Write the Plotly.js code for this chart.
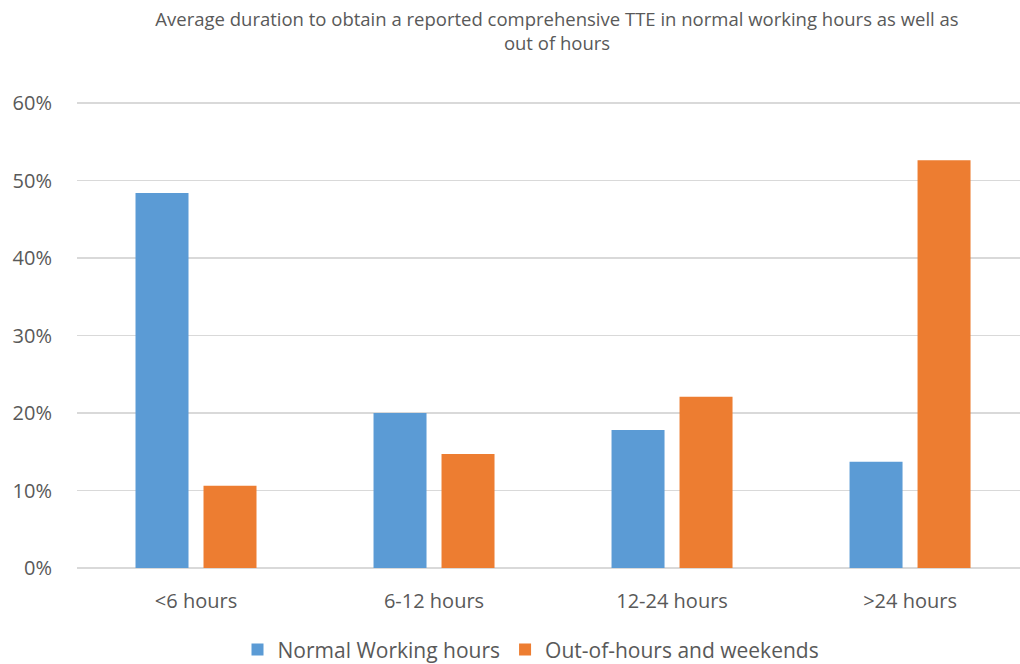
<!DOCTYPE html>
<html><head><meta charset="utf-8">
<script src="https://cdn.plot.ly/plotly-3.0.1.min.js"></script>
<style>html,body{margin:0;padding:0;background:#fff}</style>
</head><body>
<div id="chart" style="width:1020px;height:664px"></div>
<script>
const categories = ["<6 hours", "6-12 hours", "12-24 hours", ">24 hours"];
const normalHours = [0.484, 0.200, 0.178, 0.137];
const outOfHours = [0.106, 0.147, 0.221, 0.526];
const seriesNames = ["Normal Working hours", "Out-of-hours and weekends"];
const yTicks = [0, 0.1, 0.2, 0.3, 0.4, 0.5, 0.6];
const yTickLabels = ["0%", "10%", "20%", "30%", "40%", "50%", "60%"];

const font = "Open Sans, Noto Sans, sans-serif";
const data = [
  {type:"bar", x:categories, y:normalHours, name:seriesNames[0], marker:{color:"#5B9BD5"}, hoverinfo:"skip"},
  {type:"bar", x:categories, y:outOfHours, name:seriesNames[1], marker:{color:"#ED7D31"}, hoverinfo:"skip"}
];
const layout = {
  width:1020, height:664,
  margin:{l:77, r:0, t:102, b:95, pad:0, autoexpand:false},
  paper_bgcolor:"#fff", plot_bgcolor:"#fff",
  font:{family:font, color:"#595959", size:20},
  title:{text:"Average duration to obtain a reported comprehensive TTE in normal working hours as well as<br>out of hours",
         x:557/1020, xref:"container", xanchor:"center", y:1-26/664, yanchor:"middle", yref:"container",
         font:{size:18.5, color:"#595959", family:font}},
  barmode:"group", bargap:0.4286, bargroupgap:0.2206,
  xaxis:{type:"category", range:[-0.5, 3.462], showgrid:false, zeroline:false, showline:false, ticks:"",
         tickangle:0, automargin:false, tickfont:{size:20}, ticklabelstandoff:18},
  yaxis:{range:[-0.0013, 0.6013], tickvals:yTicks, ticktext:yTickLabels, showgrid:true, gridcolor:"#D9D9D9", gridwidth:1.5,
         zeroline:false, showline:false, ticks:"", automargin:false, tickfont:{size:20}, ticklabelstandoff:24},
  legend:{orientation:"h", x:(531-77)/943, xref:"paper", xanchor:"center", y:-0.173, yanchor:"middle",
          font:{size:21}, traceorder:"normal"},
  showlegend:true
};
Plotly.newPlot("chart", data, layout, {displayModeBar:false, staticPlot:true});
</script>
</body></html>
